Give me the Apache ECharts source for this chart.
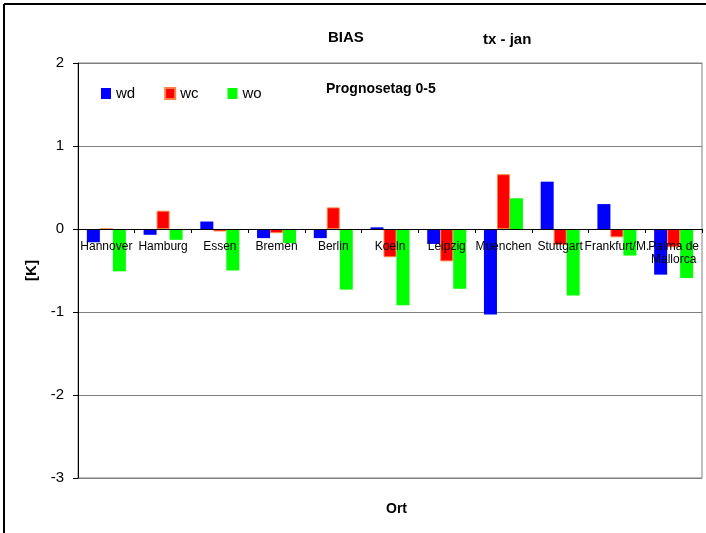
<!DOCTYPE html>
<html lang="de">
<head>
    <meta charset="UTF-8">
    <title>BIAS tx - jan</title>
    <style>
        *{
            padding:0;
            margin:0;
        }
        html, body{
            height:100%;
            width:100%;
            background:#fff;
        }
        #main{
            width:706px;
            height:533px;
        }
    </style>
    <script src="https://cdn.jsdelivr.net/npm/echarts@6/dist/echarts.min.js"></script>
</head>
<body>
<div id="main"></div>
<script>
    var categories = ['Hannover', 'Hamburg', 'Essen', 'Bremen', 'Berlin', 'Koeln', 'Leipzig',
        'Muenchen', 'Stuttgart', 'Frankfurt/M.', 'Palma de\nMallorca'];
    var wd = [-0.16, -0.07, 0.09, -0.11, -0.11, 0.02, -0.18, -1.03, 0.57, 0.30, -0.55];
    var wc = [0, 0.22, -0.03, -0.05, 0.26, -0.34, -0.39, 0.66, -0.19, -0.10, -0.22];
    var wo = [-0.51, -0.13, -0.50, -0.17, -0.73, -0.92, -0.72, 0.37, -0.80, -0.32, -0.59];
    var yTicks = [-3, -2, -1, 0, 1, 2];

    var font = '"Liberation Sans", Arial, sans-serif';
    var myChart = echarts.init(document.getElementById('main'));

    // plot area: 63..478 px high, the category axis sits at value 0
    var plotTop = 63, plotBottom = 478;
    var zeroOffset = (plotBottom - plotTop) * (0 - yTicks[0]) / (yTicks[yTicks.length - 1] - yTicks[0]);

    var option = {
        backgroundColor: '#fff',
        animation: false,
        textStyle: {fontFamily: font, color: '#000'},
        title: [
            {text: 'BIAS', left: 323, top: 25, textStyle: {fontSize: 15, fontWeight: 'bold', color: '#000', fontFamily: font}},
            {text: 'tx - jan', left: 478, top: 27, textStyle: {fontSize: 15, fontWeight: 'bold', color: '#000', fontFamily: font}},
            {text: 'Prognosetag 0-5', left: 321, top: 77, textStyle: {fontSize: 14, fontWeight: 'bold', color: '#000', fontFamily: font}},
            {text: 'Ort', left: 381, top: 497, textStyle: {fontSize: 14, fontWeight: 'bold', color: '#000', fontFamily: font}}
        ],
        legend: {
            left: 96,
            top: 81,
            icon: 'rect',
            itemWidth: 10,
            itemHeight: 11,
            itemGap: 29,
            textStyle: {fontSize: 15, color: '#000', fontFamily: font},
            data: ['wd', 'wc', 'wo']
        },
        graphic: [
            {type: 'line', shape: {x1: 4, y1: 4, x2: 706, y2: 4}, style: {stroke: '#000', lineWidth: 2}},
            {type: 'line', shape: {x1: 4, y1: 4, x2: 4, y2: 533}, style: {stroke: '#000', lineWidth: 2}}
        ],
        grid: {
            left: 78,
            right: 4,
            top: plotTop,
            bottom: 533 - plotBottom,
            show: true,
            borderColor: '#808080',
            borderWidth: 1
        },
        xAxis: {
            type: 'category',
            data: categories,
            z: 10,
            offset: -zeroOffset,
            axisLine: {onZero: false, lineStyle: {color: '#000', width: 1}},
            axisTick: {show: true, length: 4, lineStyle: {color: '#000'}},
            axisLabel: {
                interval: 0,
                margin: 11,
                fontSize: 12,
                lineHeight: 13,
                color: '#000',
                fontFamily: font
            },
            splitLine: {show: false}
        },
        yAxis: {
            type: 'value',
            min: yTicks[0],
            max: yTicks[yTicks.length - 1],
            interval: 1,
            name: '[K]',
            nameLocation: 'middle',
            nameRotate: 90,
            nameGap: 38,
            nameTextStyle: {fontSize: 15, fontWeight: 'bold', color: '#000', fontFamily: font},
            axisLine: {show: true, lineStyle: {color: '#000'}},
            axisTick: {show: true, length: 5, lineStyle: {color: '#000'}},
            axisLabel: {fontSize: 15, color: '#000', margin: 14, fontFamily: font},
            splitLine: {show: true, lineStyle: {color: '#808080', width: 1}}
        },
        series: [
            {name: 'wd', type: 'bar', data: wd, barWidth: 13, barGap: '0%',
                itemStyle: {color: '#0000ff'}},
            {name: 'wc', type: 'bar', data: wc, barWidth: 13, barGap: '0%',
                itemStyle: {color: '#ff0000', borderColor: '#ff8040', borderWidth: 1}},
            {name: 'wo', type: 'bar', data: wo, barWidth: 13, barGap: '0%',
                itemStyle: {color: '#00ff00'}}
        ]
    };
    myChart.setOption(option);
</script>
</body>
</html>
